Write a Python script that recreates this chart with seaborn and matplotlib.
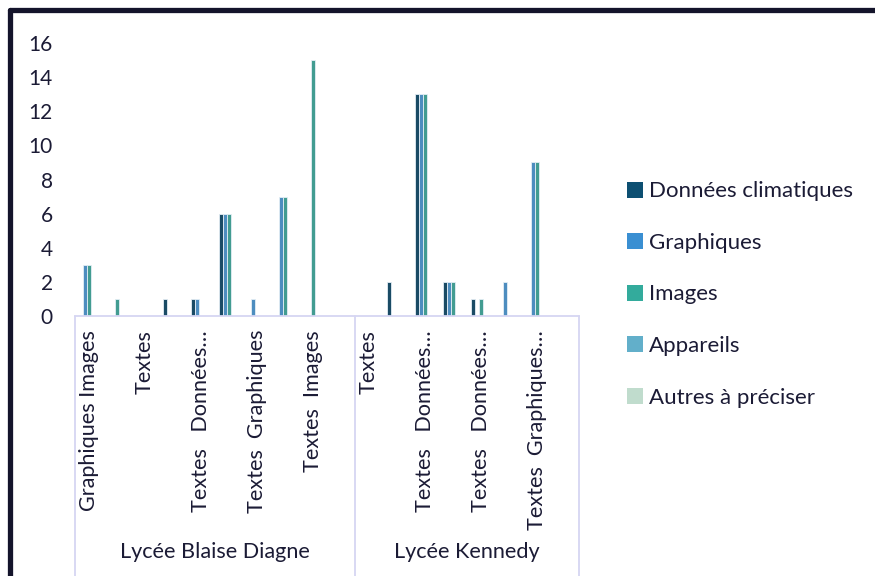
import pandas as pd
import seaborn as sns
import matplotlib.pyplot as plt
import matplotlib.transforms as mtransforms
from matplotlib.lines import Line2D
from matplotlib.patches import Patch

# Categories (every other label is hidden in the original chart)
categories = ["Graphiques Images", "", "Textes", "", "Textes   Données…", "",
              "Textes  Graphiques", "", "Textes  Images", "",
              "Textes", "", "Textes   Données…", "", "Textes   Données…", "",
              "Textes  Graphiques…", ""]
groups = ["Lycée Blaise Diagne", "Lycée Kennedy"]
group_sizes = [10, 8]

series = ["Données climatiques", "Graphiques", "Images", "Appareils", "Autres à préciser"]
donnees = [0, 0, 0, 1, 1, 6, 0, 0, 0, 0, 0, 2, 13, 2, 1, 0, 0, 0]
graphiques = [3, 0, 0, 0, 1, 6, 1, 7, 0, 0, 0, 0, 13, 2, 0, 2, 9, 0]
images = [3, 1, 0, 0, 0, 6, 0, 7, 15, 0, 0, 0, 13, 2, 1, 0, 9, 0]
appareils = [0] * 18
autres = [0] * 18

colors = ["#0d4f72", "#3a8fd2", "#33ab9c", "#62afca", "#c0dccd"]
text_color = "#1b1b35"
box_color = "#d6d6f2"

# long format for seaborn
cat_ids = [f"c{i}" for i in range(len(categories))]
rows = []
for name, vals in zip(series, [donnees, graphiques, images, appareils, autres]):
    for cid, v in zip(cat_ids, vals):
        rows.append({"cat": cid, "serie": name, "value": v})
df = pd.DataFrame(rows)

sns.set_theme(style="white")
plt.rcParams["font.family"] = ["Lato", "DejaVu Sans"]

fig = plt.figure(figsize=(8.75, 5.76), dpi=100)
ax = fig.add_axes([75 / 875, 1 - 316 / 576, 504 / 875, 273 / 576])

sns.barplot(data=df, x="cat", y="value", hue="serie", order=cat_ids,
            hue_order=series, palette=colors, width=0.72, errorbar=None,
            edgecolor="#e4eef5", linewidth=0.6, legend=False, ax=ax)

ax.set_xlim(-0.5, len(categories) - 0.5)
ax.set_ylim(0, 16)
ax.set_yticks(range(0, 17, 2))
ax.set_xticks(range(len(categories)))
ax.set_xticklabels(categories, rotation=90)
ax.set_xlabel("")
ax.set_ylabel("")
ax.tick_params(axis="y", length=0, pad=16, labelsize=15, labelcolor=text_color)
ax.tick_params(axis="x", length=0, pad=10, labelsize=15.6, labelcolor=text_color)

for s in ["left", "top", "right"]:
    ax.spines[s].set_visible(False)
ax.spines["bottom"].set_color(box_color)
ax.spines["bottom"].set_linewidth(1.3)

# multi-level category box + group labels
trans = mtransforms.blended_transform_factory(ax.transData, ax.transAxes)
edges = [-0.5]
for n in group_sizes:
    edges.append(edges[-1] + n)
for x in edges:
    ax.plot([x, x], [0, -0.96], color=box_color, lw=1.3, transform=trans, clip_on=False)
for g, a, b in zip(groups, edges[:-1], edges[1:]):
    ax.text((a + b) / 2, -0.865, g, transform=trans, ha="center", va="center",
            fontsize=15.6, color=text_color)

# legend
handles = [Patch(facecolor=c, edgecolor="none") for c in colors]
fig.legend(handles, series, loc="center left", bbox_to_anchor=(616 / 875, 1 - 294.5 / 576),
           frameon=False, fontsize=16, labelcolor=text_color, handlelength=0.72,
           handleheight=0.72, handletextpad=0.25, labelspacing=1.42, borderpad=0)

# dark frame on left and top
fig.add_artist(Line2D([9.5 / 875, 9.5 / 875], [0, 1 - 9.5 / 576], color="#14142b", lw=3.8))
fig.add_artist(Line2D([9.5 / 875, 1], [1 - 9.5 / 576, 1 - 9.5 / 576], color="#14142b", lw=3.8))

fig.savefig("out.png", dpi=100)
